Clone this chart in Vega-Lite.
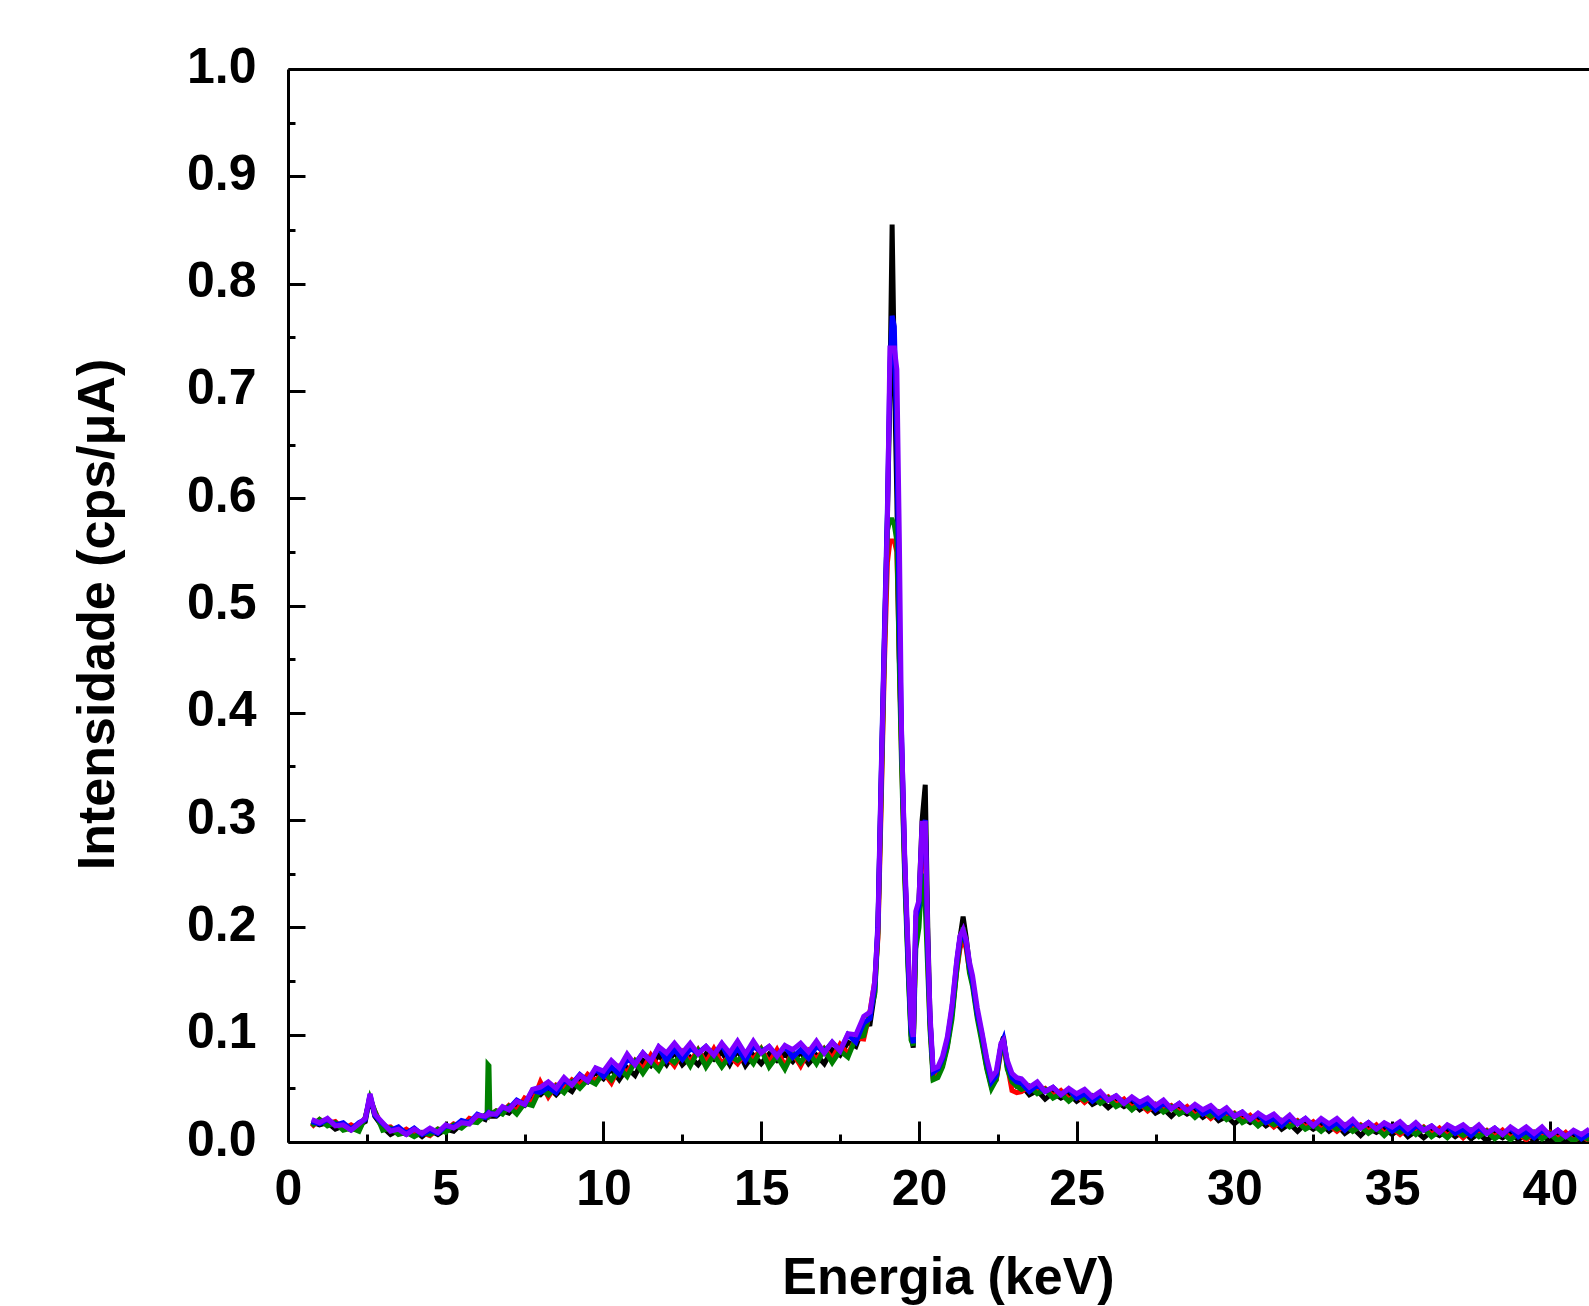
{
 "$schema": "https://vega.github.io/schema/vega-lite/v6.json",
 "width": 1301,
 "height": 1073,
 "autosize": "none",
 "padding": {"left": 288, "top": 69, "right": 0, "bottom": 164},
 "background": "white",
 "config": {"view": {"stroke": null}},
 "data": {"values": [
  {"e":0.75,"k":0.019,"r":0.014,"g":0.015,"b":0.019,"p":0.021},
  {"e":1.0,"k":0.016,"r":0.021,"g":0.021,"b":0.017,"p":0.018},
  {"e":1.25,"k":0.018,"r":0.017,"g":0.015,"b":0.021,"p":0.022},
  {"e":1.5,"k":0.012,"r":0.019,"g":0.018,"b":0.016,"p":0.015},
  {"e":1.75,"k":0.015,"r":0.012,"g":0.011,"b":0.018,"p":0.016},
  {"e":2.0,"k":0.011,"r":0.016,"g":0.013,"b":0.012,"p":0.011},
  {"e":2.25,"k":0.016,"r":0.012,"g":0.010,"b":0.018,"p":0.017},
  {"e":2.45,"k":0.019,"r":0.023,"g":0.023,"b":0.021,"p":0.022},
  {"e":2.6,"k":0.043,"r":0.040,"g":0.041,"b":0.044,"p":0.045},
  {"e":2.75,"k":0.024,"r":0.029,"g":0.029,"b":0.025,"p":0.026},
  {"e":3.0,"k":0.014,"r":0.013,"g":0.011,"b":0.017,"p":0.018},
  {"e":3.25,"k":0.007,"r":0.014,"g":0.013,"b":0.011,"p":0.010},
  {"e":3.5,"k":0.011,"r":0.008,"g":0.007,"b":0.014,"p":0.012},
  {"e":3.75,"k":0.007,"r":0.012,"g":0.009,"b":0.008,"p":0.007},
  {"e":4.0,"k":0.011,"r":0.007,"g":0.005,"b":0.013,"p":0.012},
  {"e":4.25,"k":0.005,"r":0.009,"g":0.009,"b":0.007,"p":0.008},
  {"e":4.5,"k":0.011,"r":0.006,"g":0.007,"b":0.011,"p":0.013},
  {"e":4.75,"k":0.007,"r":0.012,"g":0.012,"b":0.008,"p":0.009},
  {"e":5.0,"k":0.012,"r":0.011,"g":0.009,"b":0.015,"p":0.016},
  {"e":5.25,"k":0.010,"r":0.017,"g":0.016,"b":0.014,"p":0.013},
  {"e":5.5,"k":0.017,"r":0.014,"g":0.013,"b":0.020,"p":0.018},
  {"e":5.75,"k":0.017,"r":0.022,"g":0.019,"b":0.018,"p":0.017},
  {"e":6.0,"k":0.024,"r":0.020,"g":0.018,"b":0.026,"p":0.025},
  {"e":6.25,"k":0.021,"r":0.025,"g":0.025,"b":0.023,"p":0.024},
  {"e":6.31,"k":0.025,"r":0.024,"g":0.024,"b":0.026,"p":0.025},
  {"e":6.34,"k":0.026,"r":0.025,"g":0.072,"b":0.027,"p":0.026},
  {"e":6.37,"k":0.025,"r":0.026,"g":0.071,"b":0.026,"p":0.027},
  {"e":6.4,"k":0.024,"r":0.025,"g":0.025,"b":0.027,"p":0.026},
  {"e":6.6,"k":0.024,"r":0.029,"g":0.029,"b":0.025,"p":0.026},
  {"e":6.8,"k":0.029,"r":0.028,"g":0.026,"b":0.032,"p":0.033},
  {"e":7.0,"k":0.027,"r":0.034,"g":0.033,"b":0.031,"p":0.030},
  {"e":7.25,"k":0.035,"r":0.029,"g":0.026,"b":0.039,"p":0.038},
  {"e":7.5,"k":0.034,"r":0.041,"g":0.036,"b":0.035,"p":0.035},
  {"e":7.75,"k":0.045,"r":0.037,"g":0.034,"b":0.048,"p":0.049},
  {"e":8.0,"k":0.044,"r":0.056,"g":0.050,"b":0.046,"p":0.051},
  {"e":8.25,"k":0.051,"r":0.042,"g":0.044,"b":0.051,"p":0.056},
  {"e":8.5,"k":0.044,"r":0.053,"g":0.052,"b":0.046,"p":0.050},
  {"e":8.75,"k":0.052,"r":0.050,"g":0.046,"b":0.057,"p":0.060},
  {"e":9.0,"k":0.047,"r":0.058,"g":0.056,"b":0.054,"p":0.053},
  {"e":9.25,"k":0.059,"r":0.053,"g":0.050,"b":0.063,"p":0.062},
  {"e":9.5,"k":0.056,"r":0.063,"g":0.058,"b":0.057,"p":0.057},
  {"e":9.75,"k":0.065,"r":0.057,"g":0.054,"b":0.068,"p":0.069},
  {"e":10.0,"k":0.059,"r":0.065,"g":0.065,"b":0.061,"p":0.066},
  {"e":10.25,"k":0.068,"r":0.055,"g":0.058,"b":0.070,"p":0.076},
  {"e":10.5,"k":0.058,"r":0.070,"g":0.069,"b":0.063,"p":0.069},
  {"e":10.75,"k":0.069,"r":0.065,"g":0.061,"b":0.077,"p":0.082},
  {"e":11.0,"k":0.062,"r":0.076,"g":0.075,"b":0.073,"p":0.072},
  {"e":11.25,"k":0.076,"r":0.068,"g":0.064,"b":0.083,"p":0.083},
  {"e":11.5,"k":0.071,"r":0.081,"g":0.075,"b":0.075,"p":0.075},
  {"e":11.75,"k":0.081,"r":0.070,"g":0.067,"b":0.088,"p":0.089},
  {"e":12.0,"k":0.072,"r":0.080,"g":0.080,"b":0.076,"p":0.083},
  {"e":12.25,"k":0.084,"r":0.071,"g":0.074,"b":0.086,"p":0.092},
  {"e":12.5,"k":0.072,"r":0.084,"g":0.083,"b":0.077,"p":0.083},
  {"e":12.75,"k":0.079,"r":0.075,"g":0.071,"b":0.087,"p":0.092},
  {"e":13.0,"k":0.072,"r":0.086,"g":0.085,"b":0.083,"p":0.082},
  {"e":13.25,"k":0.082,"r":0.074,"g":0.070,"b":0.089,"p":0.089},
  {"e":13.5,"k":0.077,"r":0.087,"g":0.081,"b":0.081,"p":0.081},
  {"e":13.75,"k":0.084,"r":0.073,"g":0.070,"b":0.091,"p":0.092},
  {"e":14.0,"k":0.072,"r":0.080,"g":0.080,"b":0.076,"p":0.083},
  {"e":14.25,"k":0.086,"r":0.073,"g":0.076,"b":0.088,"p":0.094},
  {"e":14.5,"k":0.071,"r":0.083,"g":0.082,"b":0.076,"p":0.082},
  {"e":14.75,"k":0.081,"r":0.077,"g":0.073,"b":0.089,"p":0.094},
  {"e":15.0,"k":0.073,"r":0.087,"g":0.086,"b":0.084,"p":0.083},
  {"e":15.25,"k":0.082,"r":0.074,"g":0.070,"b":0.089,"p":0.089},
  {"e":15.5,"k":0.076,"r":0.086,"g":0.080,"b":0.080,"p":0.080},
  {"e":15.75,"k":0.082,"r":0.071,"g":0.068,"b":0.089,"p":0.090},
  {"e":16.0,"k":0.075,"r":0.083,"g":0.083,"b":0.079,"p":0.086},
  {"e":16.25,"k":0.084,"r":0.071,"g":0.074,"b":0.086,"p":0.092},
  {"e":16.5,"k":0.073,"r":0.085,"g":0.084,"b":0.078,"p":0.084},
  {"e":16.75,"k":0.081,"r":0.077,"g":0.073,"b":0.089,"p":0.094},
  {"e":17.0,"k":0.073,"r":0.087,"g":0.086,"b":0.084,"p":0.083},
  {"e":17.25,"k":0.086,"r":0.078,"g":0.074,"b":0.093,"p":0.093},
  {"e":17.5,"k":0.081,"r":0.091,"g":0.085,"b":0.085,"p":0.085},
  {"e":17.75,"k":0.093,"r":0.082,"g":0.079,"b":0.100,"p":0.101},
  {"e":18.0,"k":0.089,"r":0.097,"g":0.097,"b":0.093,"p":0.100},
  {"e":18.25,"k":0.109,"r":0.096,"g":0.099,"b":0.111,"p":0.117},
  {"e":18.45,"k":0.110,"r":0.122,"g":0.121,"b":0.115,"p":0.121},
  {"e":18.6,"k":0.140,"r":0.150,"g":0.138,"b":0.146,"p":0.150},
  {"e":18.7,"k":0.200,"r":0.190,"g":0.195,"b":0.205,"p":0.200},
  {"e":18.8,"k":0.330,"r":0.310,"g":0.320,"b":0.340,"p":0.335},
  {"e":18.9,"k":0.460,"r":0.440,"g":0.450,"b":0.470,"p":0.460},
  {"e":19.0,"k":0.580,"r":0.540,"g":0.570,"b":0.590,"p":0.580},
  {"e":19.08,"k":0.700,"r":0.560,"g":0.580,"b":0.720,"p":0.740},
  {"e":19.15,"k":0.855,"r":0.560,"g":0.580,"b":0.770,"p":0.740},
  {"e":19.22,"k":0.720,"r":0.560,"g":0.575,"b":0.760,"p":0.740},
  {"e":19.3,"k":0.600,"r":0.550,"g":0.560,"b":0.650,"p":0.720},
  {"e":19.38,"k":0.450,"r":0.450,"g":0.440,"b":0.480,"p":0.560},
  {"e":19.45,"k":0.370,"r":0.360,"g":0.350,"b":0.380,"p":0.380},
  {"e":19.55,"k":0.260,"r":0.250,"g":0.245,"b":0.260,"p":0.265},
  {"e":19.65,"k":0.170,"r":0.180,"g":0.165,"b":0.175,"p":0.185},
  {"e":19.75,"k":0.100,"r":0.110,"g":0.095,"b":0.105,"p":0.110},
  {"e":19.82,"k":0.088,"r":0.095,"g":0.090,"b":0.092,"p":0.098},
  {"e":19.9,"k":0.200,"r":0.190,"g":0.180,"b":0.210,"p":0.215},
  {"e":20.0,"k":0.225,"r":0.210,"g":0.200,"b":0.220,"p":0.225},
  {"e":20.1,"k":0.300,"r":0.280,"g":0.250,"b":0.290,"p":0.297},
  {"e":20.2,"k":0.333,"r":0.290,"g":0.220,"b":0.300,"p":0.297},
  {"e":20.28,"k":0.200,"r":0.170,"g":0.160,"b":0.180,"p":0.190},
  {"e":20.35,"k":0.117,"r":0.110,"g":0.105,"b":0.115,"p":0.120},
  {"e":20.45,"k":0.060,"r":0.062,"g":0.058,"b":0.065,"p":0.068},
  {"e":20.6,"k":0.062,"r":0.064,"g":0.060,"b":0.068,"p":0.070},
  {"e":20.75,"k":0.072,"r":0.075,"g":0.070,"b":0.078,"p":0.080},
  {"e":20.9,"k":0.090,"r":0.092,"g":0.088,"b":0.095,"p":0.098},
  {"e":21.05,"k":0.120,"r":0.120,"g":0.115,"b":0.125,"p":0.128},
  {"e":21.2,"k":0.165,"r":0.160,"g":0.160,"b":0.168,"p":0.170},
  {"e":21.3,"k":0.190,"r":0.180,"g":0.185,"b":0.190,"p":0.192},
  {"e":21.4,"k":0.210,"r":0.190,"g":0.200,"b":0.195,"p":0.198},
  {"e":21.5,"k":0.190,"r":0.180,"g":0.185,"b":0.185,"p":0.188},
  {"e":21.6,"k":0.165,"r":0.160,"g":0.158,"b":0.165,"p":0.168},
  {"e":21.7,"k":0.150,"r":0.148,"g":0.145,"b":0.150,"p":0.155},
  {"e":21.85,"k":0.120,"r":0.118,"g":0.115,"b":0.120,"p":0.125},
  {"e":22.0,"k":0.095,"r":0.098,"g":0.092,"b":0.100,"p":0.102},
  {"e":22.15,"k":0.070,"r":0.072,"g":0.068,"b":0.075,"p":0.078},
  {"e":22.3,"k":0.052,"r":0.055,"g":0.050,"b":0.056,"p":0.060},
  {"e":22.45,"k":0.060,"r":0.058,"g":0.058,"b":0.062,"p":0.066},
  {"e":22.6,"k":0.090,"r":0.085,"g":0.088,"b":0.090,"p":0.092},
  {"e":22.68,"k":0.098,"r":0.090,"g":0.094,"b":0.096,"p":0.095},
  {"e":22.8,"k":0.070,"r":0.072,"g":0.068,"b":0.074,"p":0.076},
  {"e":22.95,"k":0.058,"r":0.048,"g":0.056,"b":0.060,"p":0.064},
  {"e":23.1,"k":0.052,"r":0.046,"g":0.052,"b":0.056,"p":0.060},
  {"e":23.25,"k":0.053,"r":0.047,"g":0.049,"b":0.055,"p":0.059},
  {"e":23.5,"k":0.044,"r":0.052,"g":0.052,"b":0.047,"p":0.051},
  {"e":23.75,"k":0.048,"r":0.047,"g":0.045,"b":0.053,"p":0.056},
  {"e":24.0,"k":0.040,"r":0.050,"g":0.049,"b":0.047,"p":0.047},
  {"e":24.25,"k":0.046,"r":0.043,"g":0.041,"b":0.051,"p":0.051},
  {"e":24.5,"k":0.041,"r":0.048,"g":0.045,"b":0.044,"p":0.044},
  {"e":24.75,"k":0.045,"r":0.040,"g":0.038,"b":0.049,"p":0.050},
  {"e":25.0,"k":0.038,"r":0.044,"g":0.044,"b":0.041,"p":0.045},
  {"e":25.25,"k":0.043,"r":0.037,"g":0.039,"b":0.045,"p":0.049},
  {"e":25.5,"k":0.035,"r":0.043,"g":0.043,"b":0.038,"p":0.042},
  {"e":25.75,"k":0.039,"r":0.038,"g":0.036,"b":0.044,"p":0.047},
  {"e":26.0,"k":0.032,"r":0.042,"g":0.041,"b":0.039,"p":0.039},
  {"e":26.25,"k":0.038,"r":0.035,"g":0.033,"b":0.043,"p":0.043},
  {"e":26.5,"k":0.033,"r":0.040,"g":0.037,"b":0.036,"p":0.036},
  {"e":26.75,"k":0.037,"r":0.032,"g":0.030,"b":0.041,"p":0.042},
  {"e":27.0,"k":0.030,"r":0.036,"g":0.036,"b":0.033,"p":0.037},
  {"e":27.25,"k":0.035,"r":0.029,"g":0.031,"b":0.037,"p":0.041},
  {"e":27.5,"k":0.027,"r":0.035,"g":0.035,"b":0.030,"p":0.034},
  {"e":27.75,"k":0.031,"r":0.030,"g":0.028,"b":0.036,"p":0.039},
  {"e":28.0,"k":0.024,"r":0.034,"g":0.033,"b":0.031,"p":0.031},
  {"e":28.25,"k":0.031,"r":0.028,"g":0.026,"b":0.036,"p":0.036},
  {"e":28.5,"k":0.026,"r":0.033,"g":0.030,"b":0.029,"p":0.029},
  {"e":28.75,"k":0.030,"r":0.025,"g":0.023,"b":0.034,"p":0.035},
  {"e":29.0,"k":0.023,"r":0.029,"g":0.029,"b":0.026,"p":0.030},
  {"e":29.25,"k":0.028,"r":0.022,"g":0.024,"b":0.030,"p":0.034},
  {"e":29.5,"k":0.020,"r":0.028,"g":0.028,"b":0.023,"p":0.027},
  {"e":29.75,"k":0.024,"r":0.023,"g":0.021,"b":0.029,"p":0.032},
  {"e":30.0,"k":0.017,"r":0.027,"g":0.026,"b":0.024,"p":0.024},
  {"e":30.25,"k":0.023,"r":0.020,"g":0.018,"b":0.028,"p":0.028},
  {"e":30.5,"k":0.018,"r":0.025,"g":0.022,"b":0.021,"p":0.021},
  {"e":30.75,"k":0.022,"r":0.017,"g":0.015,"b":0.026,"p":0.027},
  {"e":31.0,"k":0.015,"r":0.021,"g":0.021,"b":0.018,"p":0.022},
  {"e":31.25,"k":0.020,"r":0.014,"g":0.016,"b":0.022,"p":0.026},
  {"e":31.5,"k":0.012,"r":0.020,"g":0.020,"b":0.015,"p":0.019},
  {"e":31.75,"k":0.017,"r":0.016,"g":0.014,"b":0.022,"p":0.025},
  {"e":32.0,"k":0.010,"r":0.020,"g":0.019,"b":0.017,"p":0.017},
  {"e":32.25,"k":0.017,"r":0.014,"g":0.012,"b":0.022,"p":0.022},
  {"e":32.5,"k":0.012,"r":0.019,"g":0.016,"b":0.015,"p":0.015},
  {"e":32.75,"k":0.017,"r":0.012,"g":0.010,"b":0.021,"p":0.022},
  {"e":33.0,"k":0.010,"r":0.016,"g":0.016,"b":0.013,"p":0.017},
  {"e":33.25,"k":0.016,"r":0.010,"g":0.012,"b":0.018,"p":0.022},
  {"e":33.5,"k":0.008,"r":0.016,"g":0.016,"b":0.011,"p":0.015},
  {"e":33.75,"k":0.013,"r":0.012,"g":0.010,"b":0.018,"p":0.021},
  {"e":34.0,"k":0.006,"r":0.016,"g":0.015,"b":0.013,"p":0.013},
  {"e":34.25,"k":0.013,"r":0.010,"g":0.008,"b":0.018,"p":0.018},
  {"e":34.5,"k":0.009,"r":0.016,"g":0.013,"b":0.012,"p":0.012},
  {"e":34.75,"k":0.013,"r":0.008,"g":0.006,"b":0.017,"p":0.018},
  {"e":35.0,"k":0.007,"r":0.013,"g":0.013,"b":0.010,"p":0.014},
  {"e":35.25,"k":0.013,"r":0.007,"g":0.009,"b":0.015,"p":0.019},
  {"e":35.5,"k":0.005,"r":0.013,"g":0.013,"b":0.008,"p":0.012},
  {"e":35.75,"k":0.010,"r":0.009,"g":0.007,"b":0.015,"p":0.018},
  {"e":36.0,"k":0.004,"r":0.014,"g":0.013,"b":0.011,"p":0.011},
  {"e":36.25,"k":0.010,"r":0.007,"g":0.005,"b":0.015,"p":0.015},
  {"e":36.5,"k":0.006,"r":0.013,"g":0.010,"b":0.009,"p":0.009},
  {"e":36.75,"k":0.011,"r":0.006,"g":0.004,"b":0.015,"p":0.016},
  {"e":37.0,"k":0.005,"r":0.011,"g":0.011,"b":0.008,"p":0.012},
  {"e":37.25,"k":0.010,"r":0.004,"g":0.006,"b":0.012,"p":0.016},
  {"e":37.5,"k":0.003,"r":0.011,"g":0.011,"b":0.006,"p":0.010},
  {"e":37.75,"k":0.008,"r":0.007,"g":0.005,"b":0.013,"p":0.016},
  {"e":38.0,"k":0.001,"r":0.011,"g":0.010,"b":0.008,"p":0.008},
  {"e":38.25,"k":0.008,"r":0.005,"g":0.003,"b":0.013,"p":0.013},
  {"e":38.5,"k":0.004,"r":0.011,"g":0.008,"b":0.007,"p":0.007},
  {"e":38.75,"k":0.009,"r":0.004,"g":0.002,"b":0.013,"p":0.014},
  {"e":39.0,"k":0.002,"r":0.008,"g":0.008,"b":0.005,"p":0.009},
  {"e":39.25,"k":0.008,"r":0.002,"g":0.004,"b":0.010,"p":0.014},
  {"e":39.5,"k":0.001,"r":0.009,"g":0.009,"b":0.004,"p":0.008},
  {"e":39.75,"k":0.006,"r":0.005,"g":0.003,"b":0.011,"p":0.014},
  {"e":40.0,"k":0.001,"r":0.009,"g":0.008,"b":0.006,"p":0.006},
  {"e":40.25,"k":0.006,"r":0.003,"g":0.001,"b":0.011,"p":0.011},
  {"e":40.5,"k":0.002,"r":0.009,"g":0.006,"b":0.005,"p":0.005},
  {"e":40.75,"k":0.006,"r":0.001,"g":0.001,"b":0.010,"p":0.011},
  {"e":41.0,"k":0.001,"r":0.006,"g":0.006,"b":0.003,"p":0.007},
  {"e":41.25,"k":0.006,"r":0.001,"g":0.002,"b":0.008,"p":0.012}
 ]},
 "transform": [{"fold": ["k", "r", "g", "b", "p"], "as": ["s", "i"]}],
 "mark": {"type": "line", "strokeWidth": 5, "clip": true},
 "encoding": {
  "x": {
   "field": "e", "type": "quantitative",
   "scale": {"domain": [0, 41.24], "nice": false, "zero": false},
   "axis": {
    "title": "Energia (keV)",
    "values": [0, 2.5, 5, 7.5, 10, 12.5, 15, 17.5, 20, 22.5, 25, 27.5, 30, 32.5, 35, 37.5, 40],
    "labelExpr": "datum.value % 5 === 0 ? format(datum.value, 'd') : ''",
    "tickSize": {"condition": {"test": "datum.value % 5 === 0", "value": -21}, "value": -8},
    "tickWidth": 3, "tickColor": "black",
    "domainColor": "black", "domainWidth": 3,
    "grid": false,
    "labelFont": "Liberation Sans", "labelFontWeight": "bold", "labelFontSize": 50, "labelColor": "black",
    "labelBaseline": "alphabetic", "labelPadding": 83, "labelFlush": false, "labelOverlap": false,
    "titleFont": "Liberation Sans", "titleFontWeight": "bold", "titleFontSize": 52, "titleColor": "black",
    "titleX": 660, "titleY": 151, "titleBaseline": "alphabetic", "titleAlign": "center"
   }
  },
  "y": {
   "field": "i", "type": "quantitative",
   "scale": {"domain": [0, 1], "nice": false},
   "axis": {
    "title": "Intensidade (cps/μA)",
    "values": [0, 0.05, 0.1, 0.15, 0.2, 0.25, 0.3, 0.35, 0.4, 0.45, 0.5, 0.55, 0.6, 0.65, 0.7, 0.75, 0.8, 0.85, 0.9, 0.95, 1.0],
    "labelExpr": "round(datum.value * 100) % 10 === 0 ? format(datum.value, '.1f') : ''",
    "tickSize": {"condition": {"test": "round(datum.value * 100) % 10 === 0", "value": -17}, "value": -7},
    "tickWidth": 3, "tickColor": "black",
    "domainColor": "black", "domainWidth": 3,
    "grid": true, "gridColor": "black", "gridWidth": 3,
    "gridOpacity": {"condition": {"test": "datum.value >= 0.999", "value": 1}, "value": 0},
    "labelFont": "Liberation Sans", "labelFontWeight": "bold", "labelFontSize": 50, "labelColor": "black",
    "labelBaseline": "alphabetic", "labelOffset": 13, "labelPadding": 49, "labelFlush": false, "labelOverlap": false,
    "titleFont": "Liberation Sans", "titleFontWeight": "bold", "titleFontSize": 52, "titleColor": "black",
    "titleX": -175, "titleY": 545, "titleAngle": -90, "titleBaseline": "alphabetic", "titleAlign": "center"
   }
  },
  "color": {
   "field": "s", "type": "nominal",
   "scale": {"domain": ["k", "r", "g", "b", "p"], "range": ["#000000", "#ff0000", "#008000", "#0000ff", "#8000ff"]},
   "legend": null
  }
 }
}
